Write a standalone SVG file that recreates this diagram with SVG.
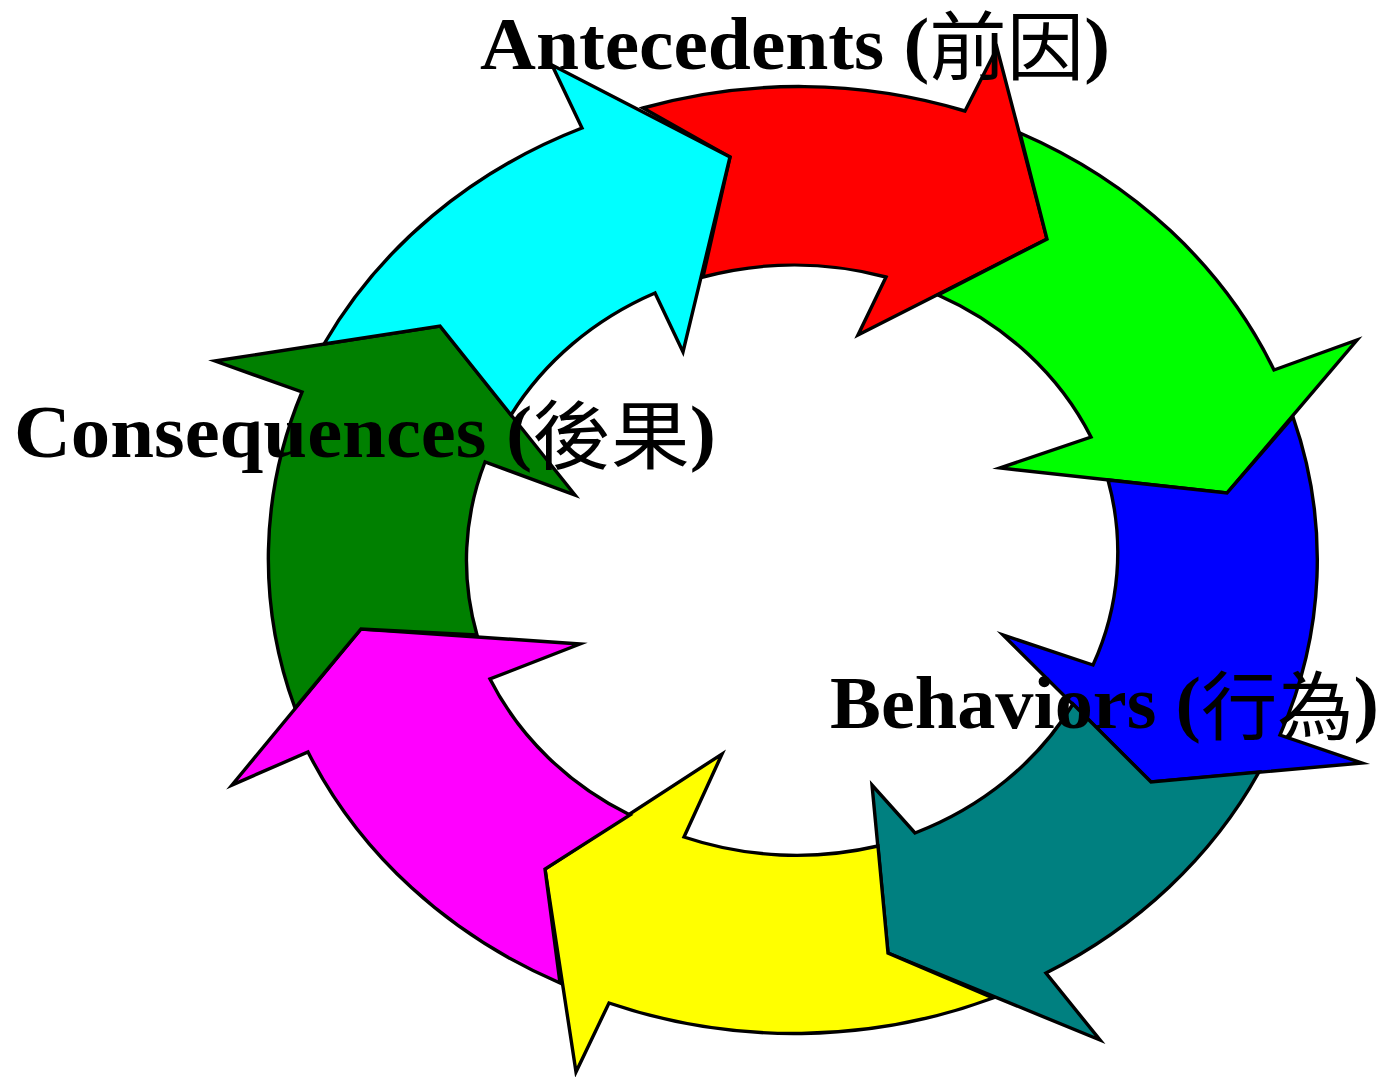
<svg xmlns="http://www.w3.org/2000/svg" width="1384" height="1077" viewBox="0 0 1384 1077">
<style>
.a{stroke:#000;stroke-width:3.4;stroke-linejoin:miter;stroke-miterlimit:12}
.t{font-family:"Liberation Serif","Times New Roman",serif;font-weight:bold;font-size:75px;fill:#000}
.c{font-family:"Noto Sans CJK TC","Noto Sans CJK JP",sans-serif;font-weight:400}
</style>
<rect width="1384" height="1077" fill="#fff"/>
<g id="arrows">
<g id="arrow-red"><path class="a" fill="#ff0000" d="M643,108 A524,473.5 0 0 1 965,111 L997,48 L1047,239 L858,335 L886,277 A325.5,295.5 0 0 0 703,277 L730,157 Z"/></g>
<g id="arrow-green"><path class="a" fill="#00ff00" d="M1020,133 A524,473.5 0 0 1 1274,370 L1357,340 L1227,493 L1000,468 L1091,437 A325.5,295.5 0 0 0 938,295 L1047,239 Z"/></g>
<g id="arrow-blue"><path class="a" fill="#0000ff" d="M1293,417 A524,473.5 0 0 1 1280,735 L1362,763 L1151,782 L1003,635 L1093,665 A325.5,295.5 0 0 0 1108,480 L1227,493 Z"/></g>
<g id="arrow-teal"><path class="a" fill="#008080" d="M1259,772 A524,473.5 0 0 1 1046,973 L1100,1040 L888,953 L872,785 L915,833 A325.5,295.5 0 0 0 1073,704 L1151,782 Z"/></g>
<g id="arrow-yellow"><path class="a" fill="#ffff00" d="M993,998 A524,473.5 0 0 1 609,1003 L576,1072 L545,869 L722,754 L684,837 A325.5,295.5 0 0 0 878,846 L888,953 Z"/></g>
<g id="arrow-magenta"><path class="a" fill="#ff00ff" d="M560,983 A524,473.5 0 0 1 308,752 L232,785 L361,629 L580,644 L490,679 A325.5,295.5 0 0 0 630,815 L545,869 Z"/></g>
<g id="arrow-darkgreen"><path class="a" fill="#008000" d="M295,708 A524,473.5 0 0 1 302,392 L215,361 L440,326 L575,495 L485,462 A325.5,295.5 0 0 0 477,635 L361,629 Z"/></g>
<g id="arrow-cyan"><path class="a" fill="#00ffff" d="M324,344 A524,473.5 0 0 1 582,128 L552,65 L730,157 L683,352 L655,293 A325.5,295.5 0 0 0 511,415 L440,326 Z"/></g>
</g>
<g id="label-antecedents"><text class="t" x="480" y="69" textLength="630" lengthAdjust="spacingAndGlyphs">Antecedents (<tspan class="c" dy="5">前因</tspan><tspan dy="-5">)</tspan></text></g>
<g id="label-consequences"><text class="t" x="14" y="457" textLength="702" lengthAdjust="spacingAndGlyphs">Consequences (<tspan class="c" dy="6">後果</tspan><tspan dy="-6">)</tspan></text></g>
<g id="label-behaviors"><text class="t" x="830" y="728" textLength="549" lengthAdjust="spacingAndGlyphs">Behaviors (<tspan class="c" dy="6">行為</tspan><tspan dy="-6">)</tspan></text></g>
</svg>
